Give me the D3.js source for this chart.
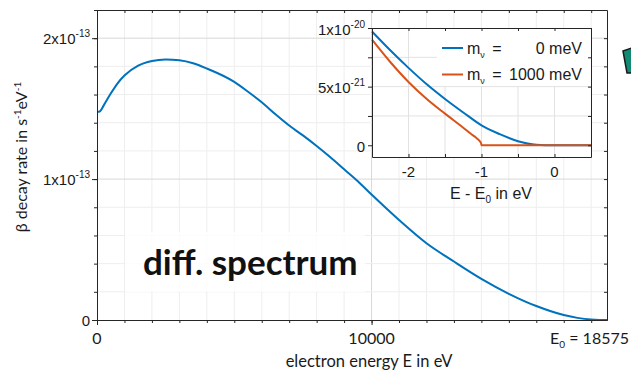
<!DOCTYPE html>
<html>
<head>
<meta charset="utf-8">
<script src="https://cdn.jsdelivr.net/npm/d3@7"></script>
<style>
  body { margin: 0; background: #fff; }
  svg { display: block; }
</style>
</head>
<body>
<svg id="chart" width="631" height="370"></svg>
<script>
// Tritium beta spectrum: electron energy (eV) and decay rate (units of 1e-13 s^-1 eV^-1)
const energy = [0, 100, 250, 500, 750, 1000, 1500, 2000, 2500, 3000, 3500, 4000, 5000, 5500,
  6000, 6500, 7000, 7500, 8000, 8500, 9000, 9500, 10000, 11000, 12000, 13000, 14000, 15000,
  16000, 17000, 17500, 18000, 18300, 18575];
const rate = [1.477, 1.48, 1.525, 1.607, 1.68, 1.735, 1.805, 1.838, 1.849, 1.843, 1.822, 1.785,
  1.69, 1.62, 1.545, 1.46, 1.38, 1.31, 1.235, 1.155, 1.07, 0.985, 0.89, 0.71, 0.545, 0.415,
  0.292, 0.186, 0.099, 0.035, 0.015, 0.0035, 0.0008, 0];

// Endpoint region: E - E0 (eV) and rate (units of 1e-21 s^-1 eV^-1)
const endpointDE = [-2.5, -2.25, -2, -1.75, -1.5, -1.25, -1, -0.75, -0.5, -0.25, 0, 0.25, 0.5];
const rateMassless = [9.7, 8.1, 6.6, 5.2, 3.95, 2.8, 1.7, 0.95, 0.35, 0.05, 0, 0, 0];
const massiveDE = [-2.5, -2.25, -2, -1.75, -1.5, -1.25, -1.15, -1.08, -1.04, -1.02, -1.005, -1.0, -0.5, 0, 0.5];
const rateMassive = [9.0, 7.1, 5.4, 3.95, 2.7, 1.5, 1.0, 0.68, 0.46, 0.32, 0.15, 0, 0, 0, 0];

const seriesNames = ["0 meV", "1000 meV"];
const seriesColors = ["#0072BD", "#D95319"];

const mainYTicks = [0, 1, 2];
const mainYExp = "-13";
const mainXTicks = [0, 10000];
const endpointLabel = "18575";
const insetYTicks = [[0, "0", ""], [5, "5x10", "-21"], [10, "1x10", "-20"]];
const insetXTicks = [-2, -1, 0];

const svg = d3.select("#chart");
const axisColor = "#262626";
const tickFont = "'Liberation Sans', Arial, sans-serif";
const texFont = "Lato, 'Open Sans', sans-serif";

// ---------- main panel ----------
const M = { left: 97, right: 607, top: 10, bottom: 320 };
const x = d3.scaleLinear().domain([0, 18575]).range([M.left, M.right]);
const y = d3.scaleLinear().domain([0, 2.2]).range([M.bottom, M.top]);

const gridX = d3.range(1000, 18575, 1000);
const gridY = d3.range(1, 11).map(i => +(i * 0.2).toFixed(1));

const grid = svg.append("g");
grid.selectAll(".gx").data(gridX).join("line")
  .attr("x1", d => x(d)).attr("x2", d => x(d))
  .attr("y1", M.top).attr("y2", M.bottom)
  .attr("stroke", d => d % 10000 === 0 ? "#d8d8d8" : "#eeeeee").attr("stroke-width", 1);
grid.selectAll(".gy").data(gridY).join("line")
  .attr("x1", M.left).attr("x2", M.right)
  .attr("y1", d => y(d)).attr("y2", d => y(d))
  .attr("stroke", d => Number.isInteger(d) ? "#d8d8d8" : "#eeeeee").attr("stroke-width", 1);

// label backdrop
svg.append("rect").attr("x", 125).attr("y", 232).attr("width", 240).attr("height", 60)
  .attr("fill", "#fff").attr("opacity", 0.8);

// spectrum curve
const line = d3.line().x(d => x(d[0])).y(d => y(d[1])).curve(d3.curveMonotoneX);
svg.append("path").datum(energy.map((e, i) => [e, rate[i]]))
  .attr("d", line).attr("fill", "none")
  .attr("stroke", seriesColors[0]).attr("stroke-width", 2);

// frame and ticks
function styleAxis(g) {
  g.selectAll("path").attr("stroke", axisColor).attr("stroke-width", 1);
  g.selectAll("line").attr("stroke", axisColor);
  g.selectAll("text").remove();
}
const xMinor = d3.range(0, 18575, 1000);
const yMinor = d3.range(0, 12).map(i => +(i * 0.2).toFixed(1));
svg.append("g").attr("transform", `translate(0,${M.bottom})`)
  .call(d3.axisBottom(x).tickValues(xMinor).tickSize(3).tickSizeOuter(0)).call(styleAxis);
svg.append("g").attr("transform", `translate(0,${M.top})`)
  .call(d3.axisBottom(x).tickValues(xMinor).tickSize(3).tickSizeOuter(0)).call(styleAxis);
svg.append("g").attr("transform", `translate(${M.left},0)`)
  .call(d3.axisLeft(y).tickValues(yMinor).tickSize(3).tickSizeOuter(0)).call(styleAxis);
svg.append("g").attr("transform", `translate(${M.right},0)`)
  .call(d3.axisLeft(y).tickValues(yMinor).tickSize(3).tickSizeOuter(0)).call(styleAxis);
svg.append("g").attr("transform", `translate(0,${M.bottom})`)
  .call(d3.axisBottom(x).tickValues(mainXTicks).tickSize(5).tickSizeOuter(0)).call(styleAxis);
svg.append("g").attr("transform", `translate(${M.left},0)`)
  .call(d3.axisLeft(y).tickValues(mainYTicks).tickSize(5).tickSizeOuter(0)).call(styleAxis);

// y tick labels with exponents
mainYTicks.forEach(v => {
  const t = svg.append("text").attr("x", M.left - 7).attr("y", y(v) + 6)
    .attr("text-anchor", "end").attr("font-family", tickFont).attr("font-size", 15)
    .attr("fill", "#1a1a1a");
  if (v === 0) { t.text("0"); }
  else {
    t.append("tspan").text(v + "x10");
    t.append("tspan").attr("dy", -7).attr("font-size", 10).text(mainYExp);
  }
});

// x tick labels
mainXTicks.forEach(v => {
  svg.append("text").attr("x", x(v)).attr("y", 344).attr("text-anchor", "middle")
    .attr("font-family", texFont).attr("font-size", 16).attr("fill", "#1a1a1a").text(v);
});
const e0 = svg.append("text").attr("x", 629).attr("y", 344).attr("text-anchor", "end")
  .attr("font-family", texFont).attr("font-size", 16).attr("fill", "#1a1a1a");
e0.append("tspan").text("E");
e0.append("tspan").attr("dy", 4).attr("font-size", 10).text("0");
e0.append("tspan").attr("dy", -4).text(" = " + endpointLabel);

// axis titles
svg.append("text").attr("x", 369).attr("y", 367).attr("text-anchor", "middle")
  .attr("font-family", texFont).attr("font-size", 16.5).attr("fill", "#1a1a1a")
  .text("electron energy E in eV");
const yl = svg.append("text").attr("transform", "translate(27,157) rotate(-90)")
  .attr("text-anchor", "middle").attr("font-family", texFont).attr("font-size", 16)
  .attr("fill", "#1a1a1a");
yl.append("tspan").text("β decay rate in s");
yl.append("tspan").attr("dy", -6).attr("font-size", 10).text("-1");
yl.append("tspan").attr("dy", 6).text("eV");
yl.append("tspan").attr("dy", -6).attr("font-size", 10).text("-1");

// big label
svg.append("text").attr("x", 143).attr("y", 275)
  .attr("font-family", "Lato, 'Open Sans', sans-serif").attr("font-weight", 700)
  .attr("font-size", 35).attr("fill", "#111").text("diff. spectrum");

// ---------- inset ----------
const I = { left: 372, right: 591, top: 28, bottom: 157 };
const xi = d3.scaleLinear().domain([-2.5, 0.5]).range([I.left, I.right]);
const yi = d3.scaleLinear().domain([-1, 10]).range([I.bottom, I.top]);

svg.append("rect").attr("x", I.left).attr("y", I.top)
  .attr("width", I.right - I.left).attr("height", I.bottom - I.top).attr("fill", "#fff");

const igx = [-2, -1.5, -1, -0.5, 0];
const igy = [2.5, 5, 7.5];
svg.append("g").selectAll("line").data(igx).join("line")
  .attr("x1", d => xi(d)).attr("x2", d => xi(d)).attr("y1", I.top).attr("y2", I.bottom)
  .attr("stroke", "#e2e2e2");
svg.append("g").selectAll("line").data(igy).join("line")
  .attr("x1", I.left).attr("x2", I.right).attr("y1", d => yi(d)).attr("y2", d => yi(d))
  .attr("stroke", "#e2e2e2");

// legend backdrop
svg.append("rect").attr("x", 437).attr("y", I.top + 1).attr("width", I.right - 438)
  .attr("height", 57).attr("fill", "#fff");

const iline = d3.line().x(d => xi(d[0])).y(d => yi(d[1])).curve(d3.curveMonotoneX);
svg.append("path").datum(endpointDE.map((e, i) => [e, rateMassless[i]]))
  .attr("d", iline).attr("fill", "none")
  .attr("stroke", seriesColors[0]).attr("stroke-width", 2);
svg.append("path").datum(massiveDE.map((e, i) => [e, rateMassive[i]]))
  .attr("d", iline).attr("fill", "none")
  .attr("stroke", seriesColors[1]).attr("stroke-width", 2);

const ixMinor = d3.range(-2.5, 0.51, 0.5);
const iyMinor = [0, 2.5, 5, 7.5, 10];
svg.append("g").attr("transform", `translate(0,${I.bottom})`)
  .call(d3.axisTop(xi).tickValues(ixMinor).tickSize(3).tickSizeOuter(0)).call(styleAxis);
svg.append("g").attr("transform", `translate(0,${I.top})`)
  .call(d3.axisBottom(xi).tickValues(ixMinor).tickSize(3).tickSizeOuter(0)).call(styleAxis);
svg.append("g").attr("transform", `translate(${I.left},0)`)
  .call(d3.axisLeft(yi).tickValues(iyMinor).tickSize(4).tickSizeOuter(0)).call(styleAxis);
svg.append("g").attr("transform", `translate(${I.right},0)`)
  .call(d3.axisLeft(yi).tickValues(iyMinor).tickSize(3).tickSizeOuter(0)).call(styleAxis);

insetYTicks.forEach(([v, base, exp]) => {
  const t = svg.append("text").attr("x", I.left - 7).attr("y", yi(v) + 6.5)
    .attr("text-anchor", "end").attr("font-family", tickFont).attr("font-size", 15)
    .attr("fill", "#1a1a1a");
  t.append("tspan").text(base);
  if (exp) t.append("tspan").attr("dy", -7).attr("font-size", 10).text(exp);
});
svg.selectAll(".ixl").data(insetXTicks).join("text")
  .attr("x", d => xi(d)).attr("y", 177).attr("text-anchor", "middle")
  .attr("font-family", tickFont).attr("font-size", 15).attr("fill", "#1a1a1a")
  .text(d => d === 0 ? "0" : "-" + Math.abs(d));
const ixl = svg.append("text").attr("x", 491).attr("y", 199).attr("text-anchor", "middle")
  .attr("font-family", tickFont).attr("font-size", 16).attr("fill", "#1a1a1a");
ixl.append("tspan").text("E - E");
ixl.append("tspan").attr("dy", 4).attr("font-size", 10).text("0");
ixl.append("tspan").attr("dy", -4).text(" in eV");

// legend
seriesNames.forEach((name, i) => {
  const cy = 48 + i * 26.5;
  svg.append("line").attr("x1", 442).attr("x2", 463).attr("y1", cy).attr("y2", cy)
    .attr("stroke", seriesColors[i]).attr("stroke-width", 2);
  const m = svg.append("text").attr("x", 467).attr("y", cy + 5.5)
    .attr("font-family", tickFont).attr("font-size", 16).attr("fill", "#1a1a1a");
  m.append("tspan").text("m");
  m.append("tspan").attr("dy", 4).attr("font-size", 9).text("ν");
  svg.append("text").attr("x", 497).attr("y", cy + 5.5).attr("text-anchor", "middle")
    .attr("font-family", tickFont).attr("font-size", 16).attr("fill", "#1a1a1a").text("=");
  svg.append("text").attr("x", 582).attr("y", cy + 5.5).attr("text-anchor", "end")
    .attr("font-family", tickFont).attr("font-size", 16).attr("fill", "#1a1a1a").text(name);
});

// slide edge ornament
svg.append("polygon").attr("points", "623,51 632,48 632,73 627,73")
  .attr("fill", "#138a74").attr("stroke", "#1a1a1a").attr("stroke-width", 1.5);
</script>
</body>
</html>
